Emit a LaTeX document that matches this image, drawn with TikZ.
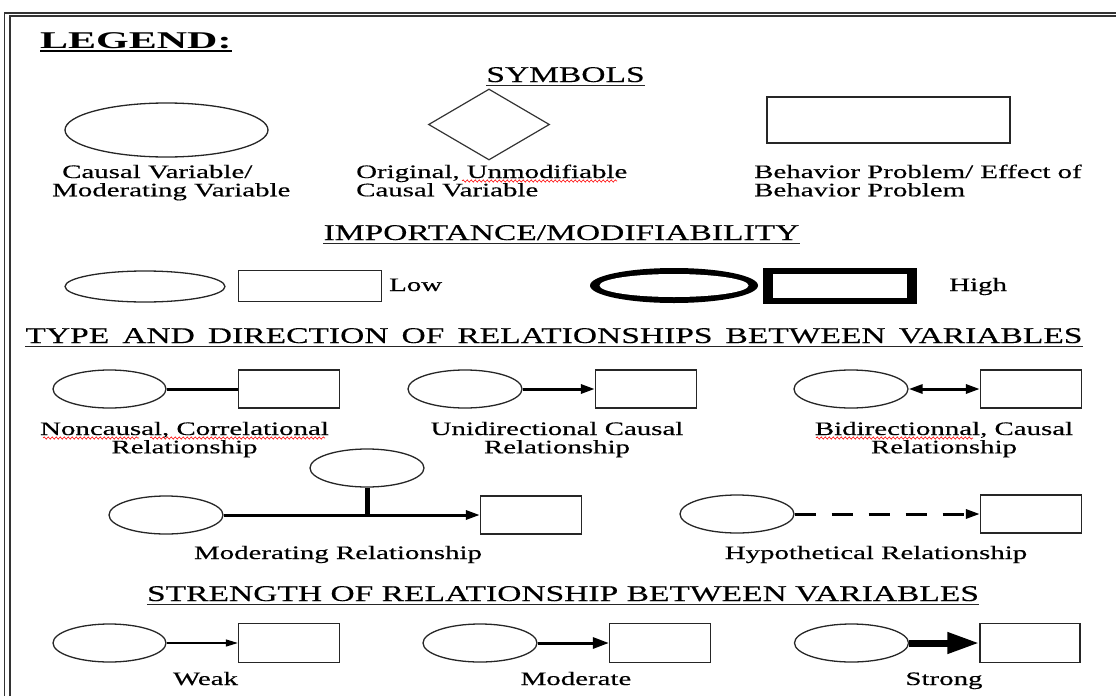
\documentclass[tikz,border=0pt]{standalone}
\usepackage{fontspec}
\setmainfont{Liberation Serif}
\newfontfamily\bodyf{Liberation Serif}[FakeStretch=1.52, FakeBold=0.4]
\newfontfamily\headf{Liberation Serif}[FakeStretch=1.49, FakeBold=0.3]
\newfontfamily\legf{Liberation Serif}[FakeStretch=1.75]
\usetikzlibrary{shapes.geometric,arrows.meta,decorations.pathmorphing}
\newcommand{\twoc}[2]{\begin{tabular}[t]{@{}c@{}}#1\\#2\end{tabular}}
\newcommand{\twol}[2]{\begin{tabular}[t]{@{}l@{}}#1\\#2\end{tabular}}
\begin{document}
\begin{tikzpicture}[x=1pt,y=-1pt,
  ell/.style={ellipse, draw=black!85, line width=1.3pt, inner sep=0pt, minimum width=114pt, minimum height=38pt},
  box/.style={rectangle, draw=black!85, line width=1.3pt, inner sep=0pt, minimum width=101pt, minimum height=38pt},
  lbl/.style={font=\bodyf\fontsize{19pt}{17pt}\selectfont, inner sep=0pt, anchor=base},
  head/.style={font=\headf\fontsize{22.5pt}{24pt}\selectfont, inner sep=0pt, anchor=base},
  uline/.style={line width=1.3pt, black!85},
  conn/.style={line width=3pt},
  uni/.style={conn, -{Triangle[length=14pt,width=9pt]}},
  bi/.style={conn, {Triangle[length=14pt,width=9pt]}-{Triangle[length=14pt,width=9pt]}},
  modh/.style={conn, -{Triangle[length=14pt,width=9pt]}},
  modv/.style={line width=5pt},
  hyp/.style={conn, dash pattern=on 21pt off 16pt, -{Triangle[length=14pt,width=9pt]}},
  weak/.style={line width=1.3pt, -{Triangle[length=12pt,width=7pt]}},
  moder/.style={line width=3pt, -{Triangle[length=16pt,width=11pt]}},
  strong/.style={line width=7pt, -{Triangle[length=32pt,width=20pt]}},
  squig/.style={red, line width=0.6pt, decorate, decoration={snake, segment length=4pt, amplitude=1.1pt}},
  frame/.style={black!80}
]
\useasboundingbox (0,0) rectangle (1116,696);
\clip (0,0) rectangle (1116,696);
% frame
\draw[frame, line width=1.6pt] (4.5,696) -- (4.5,12.8) -- (1116,12.8);
\draw[frame, line width=2pt] (10,696) -- (10,16) -- (1116,16);

% LEGEND
\node[inner sep=0pt, anchor=base west, font=\legf\bfseries\fontsize{24pt}{26pt}\selectfont] (leg) at (40,48) {LEGEND:};
\draw[line width=2pt] ([yshift=-3pt]leg.base west) -- ([yshift=-3pt]leg.base east);

% SYMBOLS
\node[head] (hsym) at (565.5,82) {SYMBOLS};
\draw[uline] ([yshift=-3.5pt]hsym.base west) -- ([yshift=-3.5pt]hsym.base east);
\node[ell, minimum width=203pt, minimum height=54pt] (sE) at (166.5,130) {};
\node[diamond, draw=black!80, line width=1.2pt, inner sep=0pt, minimum width=121pt, minimum height=71pt] (sD) at (489,124.5) {};
\node[box, minimum width=243pt, minimum height=46pt] (sR) at (888.5,120) {};
\node[lbl, anchor=base west] (lE) at (52,178) {\twol{\hspace*{10pt}Causal Variable/}{Moderating Variable}};
\node[lbl, anchor=base west] (lD) at (356,178) {\twol{Original, Unmodifiable}{Causal Variable}};
\node[lbl, anchor=base west] (lR) at (754,178) {\twol{Behavior Problem/ Effect of}{Behavior Problem}};
\draw[squig] (462,181) -- (617,181);

% IMPORTANCE
\node[head] (himp) at (561.5,240) {IMPORTANCE/MODIFIABILITY};
\draw[uline] ([yshift=-3.5pt]himp.base west) -- ([yshift=-3.5pt]himp.base east);
\node[ell, minimum width=160pt, minimum height=31pt] (loE) at (145,286.5) {};
\node[box, minimum width=143pt, minimum height=31pt] (loR) at (310.3,286) {};
\node[lbl, anchor=base west] (lo) at (389,291) {Low};
\node[ellipse, fill=black, inner sep=0pt, minimum width=168pt, minimum height=35pt] (hiE) at (674,285.5) {};
\node[ellipse, fill=white, inner sep=0pt, minimum width=149pt, minimum height=23pt] (hiEi) at (hiE) {};
\node[rectangle, fill=black, inner sep=0pt, minimum width=154pt, minimum height=36pt] (hiR) at (840,286) {};
\node[rectangle, fill=white, inner sep=0pt, minimum width=134pt, minimum height=24pt] (hiRi) at (839.5,286) {};
\node[lbl, anchor=base west] (hi) at (949,291) {High};

% TYPE AND DIRECTION
\node[head] (htyp) at (554,343) {\spaceskip=13pt TYPE AND DIRECTION OF RELATIONSHIPS BETWEEN VARIABLES};
\draw[uline] ([yshift=-3.5pt]htyp.base west) -- ([yshift=-3.5pt]htyp.base east);

\node[ell, minimum width=113pt] (aE) at (109.5,389) {};
\node[box] (aR) at (289,389) {};
\draw[conn] (aE) -- (aR);
\node[lbl] (aL) at (184.5,435) {\twoc{Noncausal, Correlational}{Relationship}};
\draw[squig] (43,438) -- (139,438);
\draw[squig] (150,438) -- (325,438);

\node[ell] (bE) at (465,389) {};
\node[box] (bR) at (646,389) {};
\draw[uni] (bE) -- (bR);
\node[lbl] (bL) at (557,435) {\twoc{Unidirectional Causal}{Relationship}};

\node[ell] (cE) at (851,389) {};
\node[box] (cR) at (1031,389) {};
\draw[bi] (cE) -- (cR);
\node[lbl] (cL) at (944,435) {\twoc{Bidirectionnal, Causal}{Relationship}};
\draw[squig] (816,438) -- (973,438);

% moderating
\node[ell] (mT) at (367,468) {};
\node[ell] (mE) at (166,515) {};
\node[box] (mR) at (531,515) {};
\draw[modh] (mE) -- (mR);
\draw[modv] (mT) -- (mT |- mR);
\node[lbl] (mL) at (338,559) {Moderating Relationship};

% hypothetical
\node[ell] (hE) at (737,514) {};
\node[box] (hR) at (1031,514) {};
\draw[hyp] (hE) -- (hR);
\node[lbl] (hL) at (876,559) {Hypothetical Relationship};

% STRENGTH
\node[head] (hstr) at (563,601) {STRENGTH OF RELATIONSHIP BETWEEN VARIABLES};
\draw[uline] ([yshift=-3.5pt]hstr.base west) -- ([yshift=-3.5pt]hstr.base east);

\node[ell, minimum width=113pt] (wE) at (109.5,643) {};
\node[box, minimum height=39pt] (wR) at (289,643) {};
\draw[weak] (wE) -- (wR);
\node[lbl] (wL) at (205.5,685) {Weak};

\node[ell] (oE) at (480,643) {};
\node[box, minimum height=39pt] (oR) at (660,643) {};
\draw[moder] (oE) -- (oR);
\node[lbl] (oL) at (576,685) {Moderate};

\node[ell] (tE) at (851.5,643) {};
\node[box, minimum width=100pt, minimum height=39pt] (tR) at (1030,643) {};
\draw[strong] (tE) -- (tR);
\node[lbl] (tL) at (944,685) {Strong};
\end{tikzpicture}
\end{document}
